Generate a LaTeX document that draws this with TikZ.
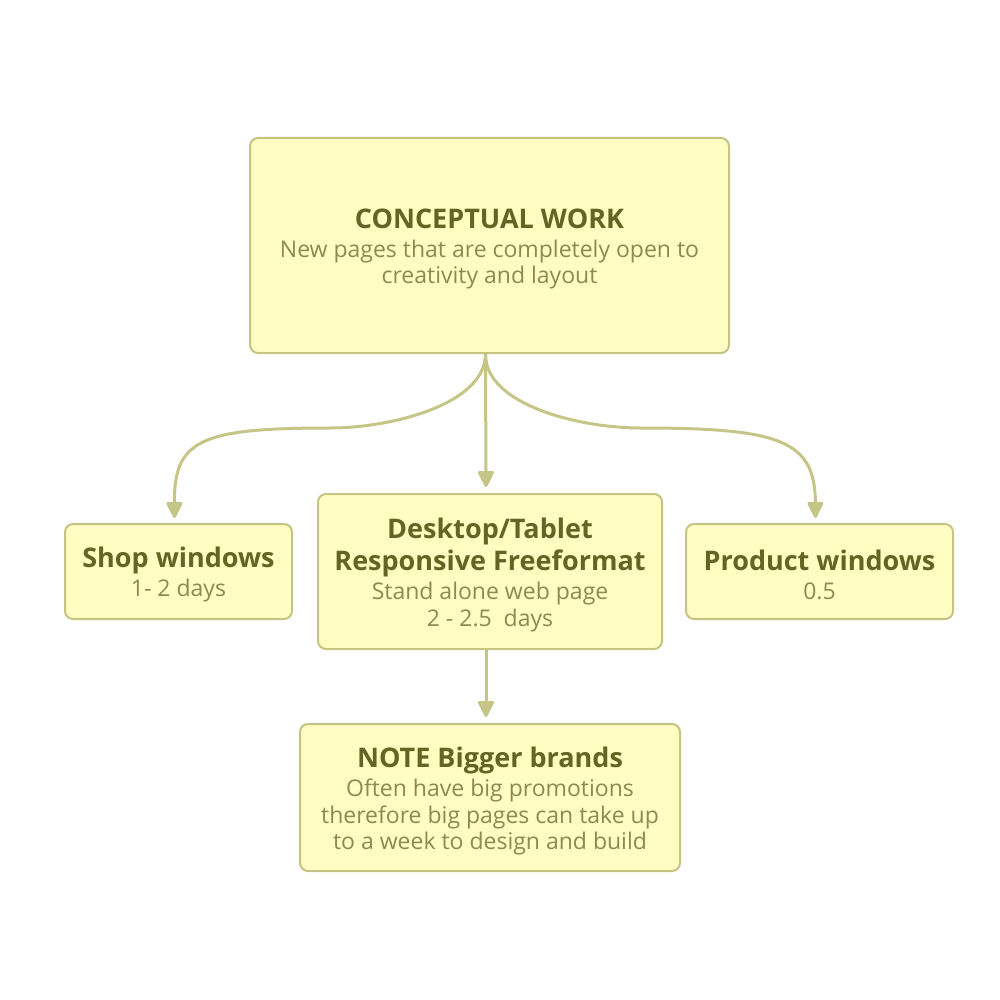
\documentclass[tikz,border=0pt]{standalone}
\usepackage{fontspec}
\setmainfont{Open Sans}
\usetikzlibrary{arrows.meta}
\definecolor{boxfill}{HTML}{FFFDC2}
\definecolor{boxline}{HTML}{C6C482}
\definecolor{titlecol}{HTML}{646424}
\definecolor{subcol}{HTML}{8A8A52}
\definecolor{arrowcol}{HTML}{C5C588}
\newcommand{\ttl}{\fontsize{27}{26.5}\selectfont\bfseries\color{titlecol}}
\newcommand{\subtx}{\fontsize{23}{26.5}\selectfont\mdseries\color{subcol}}
\tikzset{
  card/.style={draw=boxline, fill=boxfill, line width=2pt, rounded corners=8pt,
    inner sep=0pt, anchor=north west},
  txt/.style={inner sep=0pt, align=center, font=\fontsize{23}{26.5}\selectfont},
  conn/.style={draw=arrowcol, line width=3pt,
    -{Triangle[width=17pt,length=18pt,round]}}
}
\begin{document}
\begin{tikzpicture}[x=1pt,y=-1pt]
\useasboundingbox (0,0) rectangle (1000,1000);
\node[card, minimum width=479pt, minimum height=215pt] (top) at (249,137) {};
\node[txt] (topt) at ([yshift=-3.5pt]top.center)
  {\ttl CONCEPTUAL WORK\\[2.5pt]\subtx New pages that are completely open to\\\subtx creativity and layout};
\node[card, minimum width=227pt, minimum height=95pt] (shop) at (64,523) {};
\node[txt] (shopt) at ([yshift=-3pt]shop.center)
  {\ttl Shop windows\\[2.5pt]\subtx 1- 2 days};
\node[card, minimum width=344pt, minimum height=155pt] (desk) at (317,493) {};
\node[txt] (deskt) at ([yshift=-3.5pt]desk.center)
  {\ttl Desktop/Tablet\\[3.5pt]\ttl Responsive Freeformat\\[2.5pt]\subtx Stand alone web page\\\subtx 2 - 2.5~ days};
\node[card, minimum width=267pt, minimum height=95pt] (prod) at (685,523) {};
\node[txt] (prodt) at ([yshift=-3pt]prod.center)
  {\ttl Product windows\\[2.5pt]\subtx 0.5};
\node[card, minimum width=380pt, minimum height=147pt] (note) at (299,723) {};
\node[txt] (notet) at ([yshift=-3.5pt]note.center)
  {\ttl NOTE Bigger brands\\[2.5pt]\subtx Often have big promotions\\\subtx therefore big pages can take up\\\subtx to a week to design and build};
\coordinate (lmid) at (330,428);
\coordinate (rmid) at (640,428);
\draw[conn, shorten >=5pt] ([xshift=-4pt]top.south) .. controls (485,405) and (390,428) .. (lmid)
  .. controls (200,428) and (174,440) .. ([xshift=-4pt]shop.north);
\draw[conn, shorten >=5pt] ([xshift=-4pt]top.south) .. controls (485,405) and (580,428) .. (rmid)
  .. controls (780,428) and (815,440) .. ([xshift=-4pt]prod.north);
\draw[conn, shorten >=6pt] ([xshift=-4pt]top.south) -- ([xshift=-4pt]desk.north);
\draw[conn, shorten >=6pt] ([xshift=-4pt]desk.south) -- ([xshift=-4pt]note.north);
\end{tikzpicture}
\end{document}
